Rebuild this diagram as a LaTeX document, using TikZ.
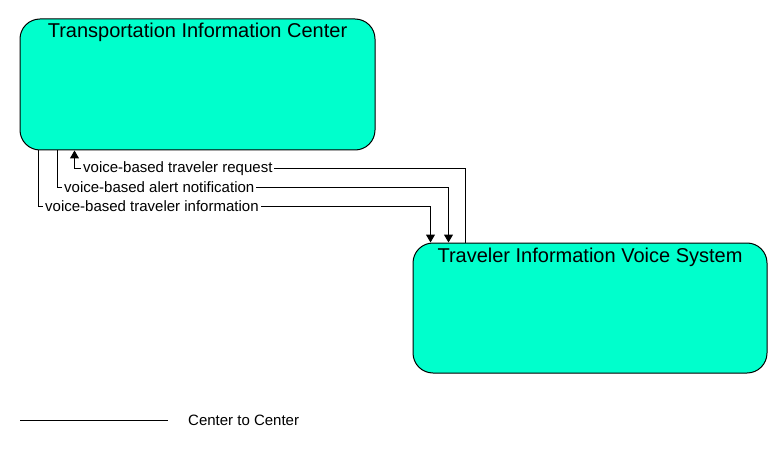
\documentclass[tikz,border=0pt]{standalone}
\usepackage{fontspec}
\setmainfont{Liberation Sans}
\usetikzlibrary{arrows.meta}
\definecolor{boxfill}{RGB}{0,255,204}
\tikzset{entity/.style={draw,fill=boxfill,rounded corners=20pt,line width=1pt,inner sep=0pt},
  entitytitle/.style={anchor=base,font=\fontsize{20}{24}\selectfont},
  flowlabel/.style={anchor=west,fill=white,inner xsep=2pt,inner ysep=1pt,font=\fontsize{15}{18}\selectfont},
  flow/.style={line width=1pt,-{Triangle[length=8pt,width=9pt]}}}

\begin{document}
\begin{tikzpicture}[x=1pt,y=-1pt]
  \useasboundingbox (0,0) rectangle (783,449);
  \node[entity,minimum width=355pt,minimum height=131pt] (tic) at (197.5,84.5) {};
  \node[entity,minimum width=354pt,minimum height=130pt] (tivs) at (590,308) {};
  \node[entitytitle] (tictitle) at ([yshift=-19pt]tic.north) {Transportation Information Center};
  \node[entitytitle] (tivstitle) at ([yshift=-20pt]tivs.north) {Traveler Information Voice System};

  % flows
  \draw[flow] ([xshift=53pt]tivs.north west) -- ++(0,-74) -| ([xshift=55pt]tic.south west);
  \draw[flow] ([xshift=38pt]tic.south west) -- ++(0,37) -| ([xshift=36pt]tivs.north west);
  \draw[flow] ([xshift=19pt]tic.south west) -- ++(0,56) -| ([xshift=18pt]tivs.north west);
  \node[flowlabel] (lblreq) at (81,169) {voice-based traveler request};
  \node[flowlabel] (lblalert) at (62,187) {voice-based alert notification};
  \node[flowlabel] (lblinfo) at (43,206) {voice-based traveler information};

  % legend
  \coordinate (lgA) at (20,420);
  \coordinate (lgB) at (168,420);
  \draw[line width=1pt] (lgA) -- (lgB);
  \node[anchor=west,inner sep=0pt,font=\fontsize{15}{18}\selectfont] (lgtext) at (188,420) {Center to Center};
\end{tikzpicture}
\end{document}
